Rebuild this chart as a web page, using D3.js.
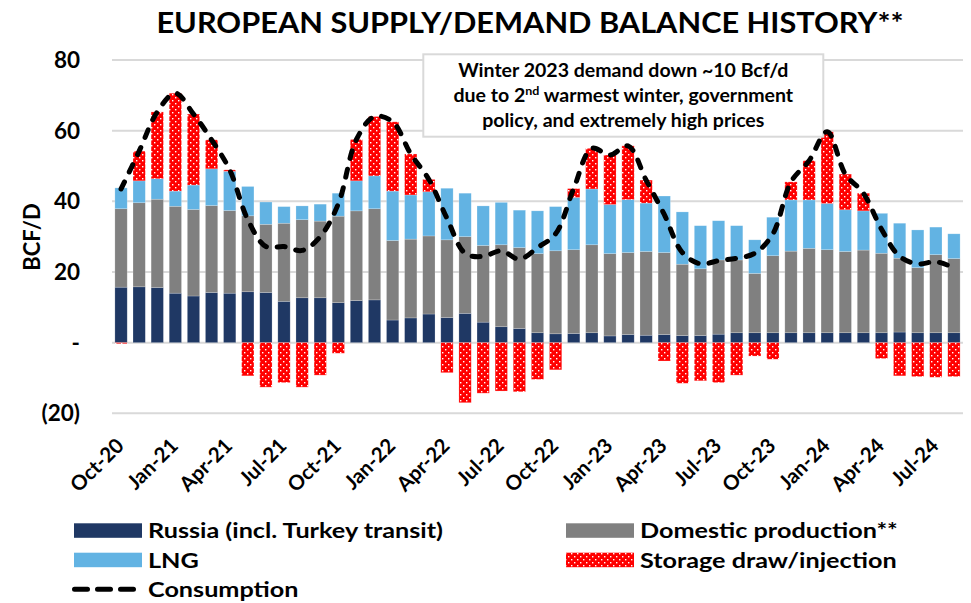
<!DOCTYPE html>
<html><head><meta charset="utf-8">
<script src="https://cdn.jsdelivr.net/npm/d3@7"></script>
<style>
html,body{margin:0;padding:0;background:#fff;}
svg text{font-family:Lato,"Open Sans",sans-serif;font-weight:700;fill:#000;}
</style></head>
<body><svg id="chart" width="971" height="603"></svg>
<script>
const months = ["Oct-20","Nov-20","Dec-20","Jan-21","Feb-21","Mar-21","Apr-21","May-21","Jun-21","Jul-21","Aug-21","Sep-21",
"Oct-21","Nov-21","Dec-21","Jan-22","Feb-22","Mar-22","Apr-22","May-22","Jun-22","Jul-22","Aug-22","Sep-22",
"Oct-22","Nov-22","Dec-22","Jan-23","Feb-23","Mar-23","Apr-23","May-23","Jun-23","Jul-23","Aug-23","Sep-23",
"Oct-23","Nov-23","Dec-23","Jan-24","Feb-24","Mar-24","Apr-24","May-24","Jun-24","Jul-24","Aug-24"];
const tickLabels = ["Oct-20","Jan-21","Apr-21","Jul-21","Oct-21","Jan-22","Apr-22","Jul-22","Oct-22","Jan-23","Apr-23","Jul-23","Oct-23","Jan-24","Apr-24","Jul-24"];
const yTicks = [-20,0,20,40,60,80];

const russia = [15.7,15.8,15.6,14.0,13.2,14.2,14.0,14.4,14.2,11.7,12.7,12.7,
11.3,11.9,12.1,6.4,7.0,8.1,7.1,8.3,5.8,4.5,4.0,2.8,
2.5,2.6,2.8,1.9,2.3,2.1,2.3,2.0,2.0,2.4,2.8,2.8,
2.8,2.8,2.8,2.8,2.8,2.8,2.8,3.0,2.8,2.8,2.8];
const domestic = [22.2,23.8,25.0,24.6,24.5,24.6,23.4,21.5,19.3,22.1,22.1,21.7,
24.5,25.4,25.8,22.5,22.3,22.1,22.0,21.7,21.7,23.2,22.9,22.4,
23.5,23.7,24.9,23.3,23.2,23.7,23.2,20.2,18.9,21.0,20.6,16.8,
21.8,23.1,23.9,23.5,23.0,23.4,22.5,20.9,18.4,22.1,21.0];
const lng = [5.9,6.2,5.8,4.3,6.9,10.4,11.1,8.3,6.3,4.7,3.9,4.8,
6.5,8.5,9.3,14.0,12.5,12.5,14.6,12.3,11.2,12.0,10.6,12.1,
12.5,14.8,15.8,13.9,15.0,13.7,16.0,14.8,12.2,11.1,9.7,9.5,
10.9,14.5,13.7,13.1,11.8,11.1,11.3,9.9,10.7,7.8,7.0];
const storage = [-0.3,8.4,18.9,27.7,20.1,8.2,0.4,-9.4,-12.6,-11.3,-12.6,-9.2,
-3.0,11.7,16.8,19.6,11.6,3.5,-8.5,-17.0,-14.3,-13.7,-13.9,-10.4,
-7.7,2.5,11.5,14.0,15.2,6.5,-5.2,-11.5,-10.8,-11.3,-9.2,-3.8,
-4.7,5.1,11.1,20.3,10.1,5.0,-4.5,-9.4,-9.6,-9.8,-9.6];
const consumption = [43.5,54.2,65.3,70.6,64.7,57.4,48.9,34.8,27.2,27.2,26.1,30.0,
39.3,57.5,64.0,62.5,53.4,46.2,35.2,25.3,24.4,26.0,23.6,26.9,
30.8,43.6,55.0,53.1,55.7,46.0,36.3,25.5,22.3,23.2,23.9,25.3,
30.8,45.5,51.5,59.7,47.7,42.3,32.1,24.4,22.3,22.9,21.2];

const colors = {russia:"#1F3864", domestic:"#808080", lng:"#62B3E3", storage:"#FF0000"};

const svg = d3.select("#chart");
const defs = svg.append("defs");
const pat = defs.append("pattern").attr("id","dots").attr("patternUnits","userSpaceOnUse")
  .attr("width",6).attr("height",6);
pat.append("rect").attr("width",6).attr("height",6).attr("fill",colors.storage);
pat.append("rect").attr("x",1).attr("y",1).attr("width",1.4).attr("height",1.4).attr("fill","#fff");
pat.append("rect").attr("x",4).attr("y",4).attr("width",1.4).attr("height",1.4).attr("fill","#fff");

const x = d3.scaleBand().domain(months).range([112,963]).paddingInner(0.32).paddingOuter(0.16);
const y = d3.scaleLinear().domain([-20,80]).range([413.3,60]);

// helper: text with horizontal stretch around its anchor
function stretchedText(parent, px, py, sx, size, anchor, str){
  return parent.append("text")
    .attr("transform",`translate(${px},${py}) scale(${sx},1)`)
    .attr("text-anchor",anchor).style("font-size",size+"px").text(str);
}

// gridlines
svg.append("g").selectAll("line").data(yTicks).join("line")
  .attr("x1",112).attr("x2",963).attr("y1",d=>y(d)).attr("y2",d=>y(d))
  .attr("stroke","#D9D9D9").attr("stroke-width",2);

// y labels
const fmt = d => d===0 ? "-" : (d<0 ? "("+Math.abs(d)+")" : String(d));
svg.append("g").selectAll("text").data(yTicks).join("text")
  .attr("x",80).attr("y",d=>y(d)).attr("dy","0.36em").attr("text-anchor","end")
  .style("font-size","22.5px").text(fmt);

svg.append("text").attr("transform","translate(40,237) rotate(-90)")
  .attr("text-anchor","middle").style("font-size","22px").text("BCF/D");

// stacked bars
const data = months.map((m,i)=>({m, r:russia[i], d:domestic[i], l:lng[i], s:storage[i]}));
const bars = svg.append("g");
const bw = x.bandwidth();
function seg(y0f, y1f, fill){
  bars.append("g").selectAll("rect").data(data).join("rect")
    .attr("x",d=>x(d.m)).attr("width",bw)
    .attr("y",d=>Math.min(y(y0f(d)),y(y1f(d))))
    .attr("height",d=>Math.abs(y(y0f(d))-y(y1f(d))))
    .attr("fill",fill).attr("stroke","rgba(255,255,255,0.35)").attr("stroke-width",0.6);
}
seg(d=>0, d=>d.r, colors.russia);
seg(d=>d.r, d=>d.r+d.d, colors.domestic);
seg(d=>d.r+d.d, d=>d.r+d.d+d.l, colors.lng);
seg(d=>d.s>=0 ? d.r+d.d+d.l : 0, d=>d.s>=0 ? d.r+d.d+d.l+d.s : d.s, "url(#dots)");

// x labels
svg.append("g").selectAll("text").data(tickLabels).join("text")
  .attr("transform",d=>`translate(${x(d)+bw/2+4},447) rotate(-45)`)
  .attr("text-anchor","end").style("font-size","20.5px").text(d=>d);

// annotation box
svg.append("rect").attr("x",423.3).attr("y",54.3).attr("width",400).attr("height",82.4)
  .attr("fill","#fff").attr("stroke","#D9D9D9").attr("stroke-width",2);
const ann = svg.append("g");
stretchedText(ann, 623.3, 76.7, 1.04, 18.8, "middle", "Winter 2023 demand down ~10 Bcf/d");
const l2 = ann.append("text").attr("transform","translate(623.3,101.7) scale(1.04,1)")
  .attr("text-anchor","middle").style("font-size","18.8px");
l2.append("tspan").text("due to 2");
l2.append("tspan").attr("dy",-7).style("font-size","12px").text("nd");
l2.append("tspan").attr("dy",7).text(" warmest winter, government");
stretchedText(ann, 623.3, 126.7, 1.04, 18.8, "middle", "policy, and extremely high prices");

// consumption line
const line = d3.line().x((d,i)=>x(months[i])+bw/2).y(d=>y(d)).curve(d3.curveCatmullRom.alpha(0.5));
svg.append("path").datum(consumption).attr("d",line).attr("fill","none")
  .attr("stroke","#000").attr("stroke-width",5).attr("stroke-linecap","round")
  .attr("stroke-dasharray","8,11");

// title
stretchedText(svg, 530, 32.7, 1.06, 29, "middle", "EUROPEAN SUPPLY/DEMAND BALANCE HISTORY**");

// legend
const leg = svg.append("g");
const items = [
  {label:"Russia (incl. Turkey transit)", type:"rect", fill:colors.russia, x:74, y:523.3},
  {label:"Domestic production**", type:"rect", fill:colors.domestic, x:566, y:523.3},
  {label:"LNG", type:"rect", fill:colors.lng, x:74, y:552.7},
  {label:"Storage draw/injection", type:"rect", fill:"url(#dots)", x:566, y:552.7},
  {label:"Consumption", type:"line", x:74, y:582}
];
items.forEach(it=>{
  if(it.type==="rect"){
    leg.append("rect").attr("x",it.x).attr("y",it.y).attr("width",68).attr("height",14.5).attr("fill",it.fill);
  } else {
    leg.append("line").attr("x1",it.x+0.5).attr("x2",it.x+61).attr("y1",it.y+7.3).attr("y2",it.y+7.3)
      .attr("stroke","#000").attr("stroke-width",5).attr("stroke-linecap","round").attr("stroke-dasharray","13,10");
  }
  stretchedText(leg, it.x+74, it.y+14.8, 1.2, 21, "start", it.label);
});
</script></body></html>
